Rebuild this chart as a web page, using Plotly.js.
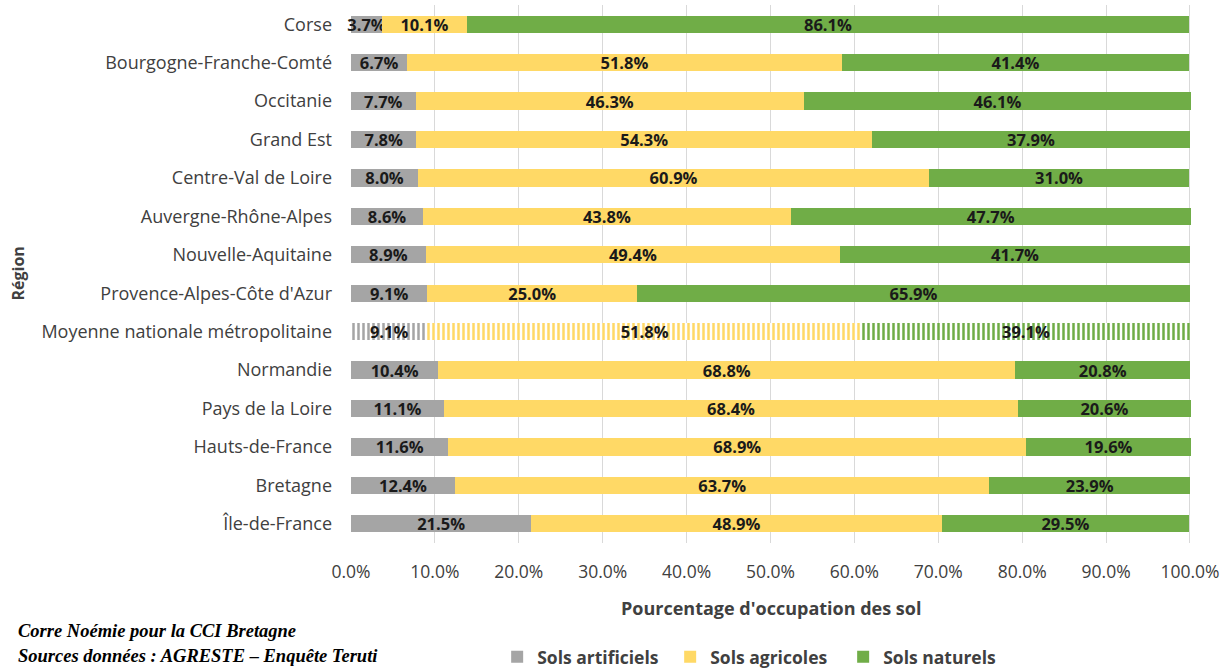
<!DOCTYPE html>
<html><head><meta charset="utf-8">
<script src="https://cdn.plot.ly/plotly-3.0.1.min.js"></script>
<style>body{margin:0;background:#fff}#chart{width:1224px;height:668px}</style>
</head><body><div id="chart"></div>
<script>
const regions = ["Corse","Bourgogne-Franche-Comté","Occitanie","Grand Est","Centre-Val de Loire","Auvergne-Rhône-Alpes","Nouvelle-Aquitaine","Provence-Alpes-Côte d'Azur","Moyenne nationale métropolitaine","Normandie","Pays de la Loire","Hauts-de-France","Bretagne","Île-de-France"];
const artificiels = [3.7,6.7,7.7,7.8,8.0,8.6,8.9,9.1,9.1,10.4,11.1,11.6,12.4,21.5];
const agricoles   = [10.1,51.8,46.3,54.3,60.9,43.8,49.4,25.0,51.8,68.8,68.4,68.9,63.7,48.9];
const naturels    = [86.1,41.4,46.1,37.9,31.0,47.7,41.7,65.9,39.1,20.8,20.6,19.6,23.9,29.5];
const seriesNames = ["Sols artificiels","Sols agricoles","Sols naturels"];
const colors = ["#a5a5a5","#ffd966","#70ad47"];
const hatchedRegion = "Moyenne nationale métropolitaine";

const F = "'Open Sans', 'Noto Sans', sans-serif";
function mk(vals, i){
  const shapes = regions.map(r => r===hatchedRegion ? "|" : "");
  return {
    type:"bar", orientation:"h", name:seriesNames[i],
    y:regions, x:vals.map(v=>v/100),
    text:vals.map(v=>v.toFixed(1)+"%"),
    texttemplate:"%{text}", textposition:"inside", insidetextanchor:"middle",
    constraintext:"none", textangle:0, cliponaxis:(i!==0),
    textfont:{family:F, size:16.5, color:"#1a1a1a", weight:"bold"},
    marker:{color:colors[i], line:{width:0},
      pattern:{shape:shapes, fillmode:"replace", bgcolor:"#ffffff", fgcolor:colors[i], size:5, solidity:0.5}},
    hoverinfo:"skip", width:0.45
  };
}
const data = [mk(artificiels,0), mk(agricoles,1), mk(naturels,2)];
const layout = {
  width:1224, height:668, barmode:"stack", bargap:0.55,
  paper_bgcolor:"#fff", plot_bgcolor:"#fff",
  margin:{l:351, r:33, t:5, b:125},
  font:{family:F, color:"#404040", size:16},
  xaxis:{range:[0,1.0012], tickformat:".1%", dtick:0.1, showgrid:true, gridcolor:"#d9d9d9", gridwidth:1,
    zeroline:false, showline:false, ticks:"", ticklabelstandoff:16, tickfont:{size:17.5, color:"#404040"},
    fixedrange:true, automargin:false},
  yaxis:{autorange:"reversed", showgrid:false, showline:false, ticks:"", ticklabelstandoff:18,
    tickfont:{size:18, color:"#404040"}, fixedrange:true, automargin:false},
  showlegend:true,
  legend:{orientation:"h", xref:"paper", x:0.174, xanchor:"left", yref:"container", y:0.0165, yanchor:"middle",
    entrywidth:128, entrywidthmode:"pixels",
    font:{size:17.5, color:"#404040", weight:"bold"}, traceorder:"normal", itemsizing:"constant"},
  annotations:[
    {text:"Région", xref:"paper", yref:"paper", x:-0.397, y:0.5, xanchor:"center", yanchor:"middle", textangle:-90,
      showarrow:false, font:{size:16, color:"#404040", weight:"bold"}},
    {text:"Pourcentage d'occupation des sol", xref:"paper", yref:"paper", x:0.5, y:-0.121, xanchor:"center", yanchor:"middle",
      showarrow:false, font:{size:18, color:"#404040", weight:"bold"}},
    {text:"Corre Noémie pour la CCI Bretagne", xref:"paper", yref:"paper", x:-0.399, y:-0.163, xanchor:"left", yanchor:"middle",
      showarrow:false, font:{family:"'Liberation Serif', serif", size:18.5, color:"#000", weight:"bold", style:"italic"}},
    {text:"Sources données : AGRESTE – Enquête Teruti", xref:"paper", yref:"paper", x:-0.399, y:-0.21, xanchor:"left", yanchor:"middle",
      showarrow:false, font:{family:"'Liberation Serif', serif", size:18.5, color:"#000", weight:"bold", style:"italic"}}
  ]
};
Plotly.newPlot("chart", data, layout, {displayModeBar:false, staticPlot:true});
</script></body></html>
